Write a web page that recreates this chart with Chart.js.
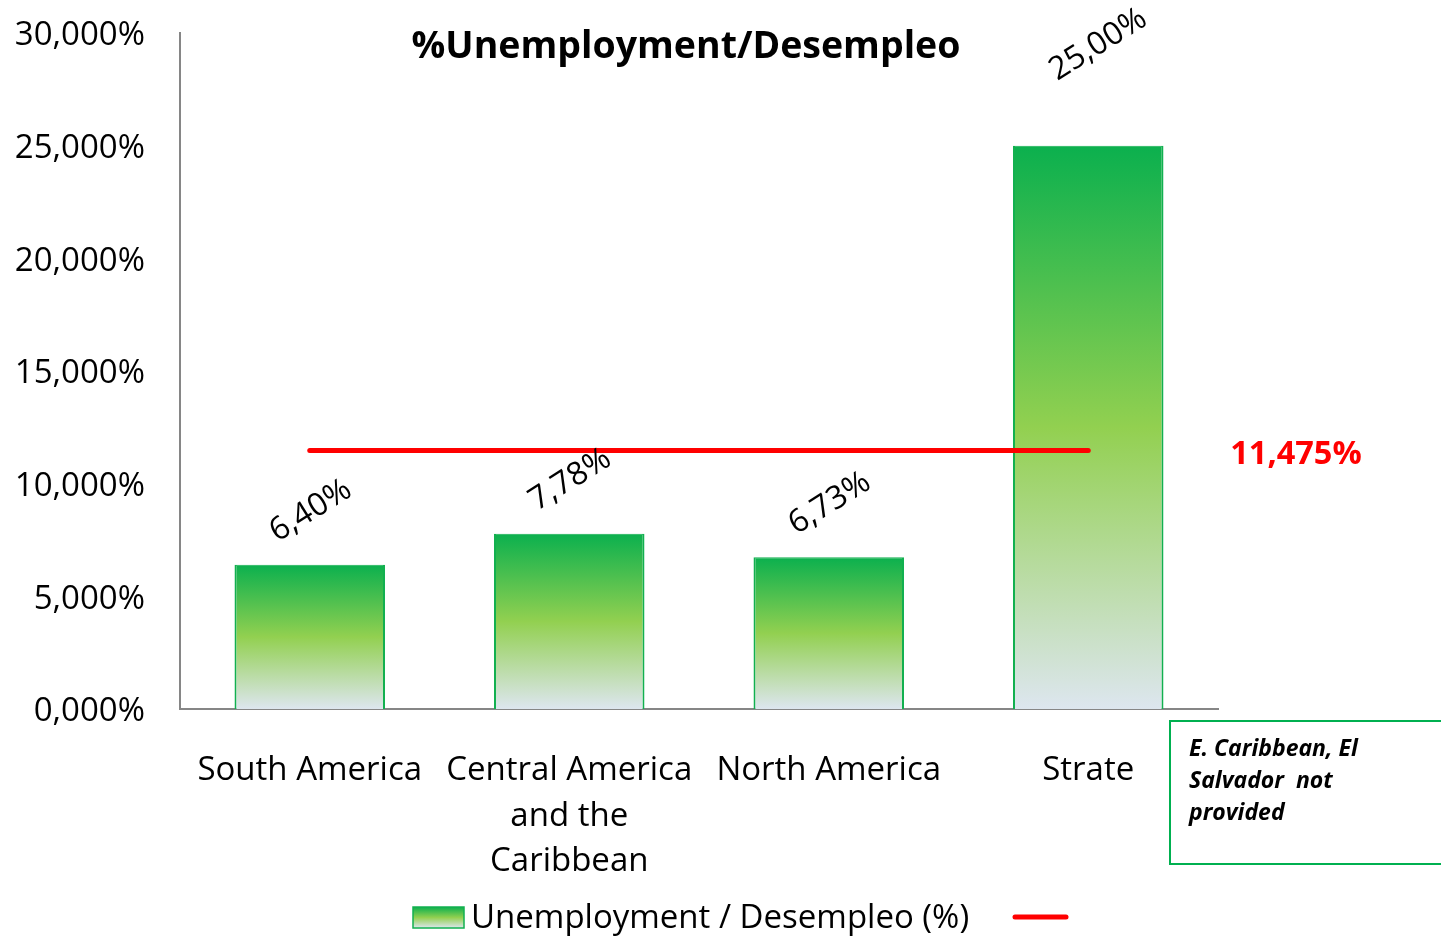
<!DOCTYPE html>
<html>
<head>
<meta charset="utf-8">
<script src="https://cdn.jsdelivr.net/npm/chart.js@4.4.0/dist/chart.umd.min.js"></script>
<style>
    body { margin: 0; background: #fff; }
    #wrap { width: 1441px; height: 936px; }
</style>
</head>
<body>
<div id="wrap"><canvas id="chart" width="1441" height="936"></canvas></div>
<script>
const categories = [
    ["South America"],
    ["Central America", "and the", "Caribbean"],
    ["North America"],
    ["Strate"],
];
const unemployment = [6.40, 7.78, 6.73, 25.00];
const average = [11.475, 11.475, 11.475, 11.475];
const yTicks = [0, 5, 10, 15, 20, 25, 30];
const noteLines = ["E. Caribbean, El", "Salvador  not", "provided"];

const FONT = "'Open Sans', sans-serif";

function pct(v, digits) {
    return v.toFixed(digits).replace(".", ",") + "%";
}

function barGradient(ctx, top, bottom) {
    const g = ctx.createLinearGradient(0, top, 0, bottom);
    g.addColorStop(0, "#0BB04E");
    g.addColorStop(0.5, "#92D050");
    g.addColorStop(1, "#DDE6EF");
    return g;
}

const extrasPlugin = {
    id: "extras",
    afterDraw: (chart) => {
        const ctx = chart.ctx;
        const meta = chart.getDatasetMeta(1);

        ctx.save();

        // title
        ctx.font = "bold 37.5px " + FONT;
        ctx.fillStyle = "#000";
        ctx.textAlign = "center";
        ctx.textBaseline = "middle";
        ctx.fillText("%Unemployment/Desempleo", 686, 47);

        // rotated value labels
        const shift = [[1, -54], [1, -54], [1, -54], [10, -101]];
        ctx.font = "32px " + FONT;
        meta.data.forEach((bar, i) => {
            ctx.save();
            ctx.translate(bar.x + shift[i][0], bar.y + shift[i][1]);
            ctx.rotate(-32 * Math.PI / 180);
            ctx.fillText(pct(unemployment[i], 2), 0, 0);
            ctx.restore();
        });

        // average value
        const yAvg = chart.scales.y.getPixelForValue(average[0]);
        ctx.font = "bold 32.5px " + FONT;
        ctx.fillStyle = "#FF0000";
        ctx.fillText(pct(average[0], 3), 1296, yAvg + 4);

        // note box
        ctx.strokeStyle = "#00B050";
        ctx.lineWidth = 2;
        ctx.strokeRect(1170, 721, 290, 143);
        ctx.fillStyle = "#000";
        ctx.textAlign = "left";
        ctx.font = "italic bold 23px " + FONT;
        noteLines.forEach((t, i) => ctx.fillText(t, 1189, 749 + i * 32));

        // legend
        const lx = 413, ly = 907;
        ctx.fillStyle = barGradient(ctx, ly, ly + 21);
        ctx.fillRect(lx, ly, 51, 21);
        ctx.strokeStyle = "#12B04F";
        ctx.lineWidth = 1.5;
        ctx.strokeRect(lx, ly, 51, 21);
        ctx.fillStyle = "#000";
        ctx.font = "33px " + FONT;
        ctx.fillText(chart.data.datasets[1].label, 471, 919);
        ctx.strokeStyle = "#FF0000";
        ctx.lineWidth = 5;
        ctx.lineCap = "round";
        ctx.beginPath();
        ctx.moveTo(1015, 917);
        ctx.lineTo(1066, 917);
        ctx.stroke();

        ctx.restore();
    },
};

new Chart(document.getElementById("chart").getContext("2d"), {
    type: "bar",
    data: {
        labels: categories,
        datasets: [
            {
                type: "line",
                label: "",
                data: average,
                borderColor: "#FF0000",
                borderWidth: 5,
                borderCapStyle: "round",
                pointRadius: 0,
                order: 0,
            },
            {
                label: "Unemployment / Desempleo (%)",
                data: unemployment,
                backgroundColor: (c) => {
                    const chart = c.chart;
                    if (!chart.chartArea || c.raw === undefined) {
                        return "#92D050";
                    }
                    const y = chart.scales.y;
                    return barGradient(chart.ctx, y.getPixelForValue(c.raw), y.getPixelForValue(0));
                },
                borderColor: "#12B04F",
                borderWidth: { left: 2, right: 2, top: 1, bottom: 0 },
                borderSkipped: false,
                barPercentage: 0.58,
                categoryPercentage: 1,
                order: 1,
            },
        ],
    },
    options: {
        responsive: false,
        animation: false,
        layout: {
            padding: { left: 0, top: 33, right: 223, bottom: 0 },
        },
        plugins: {
            legend: { display: false },
            title: { display: false },
            tooltip: { enabled: false },
        },
        scales: {
            x: {
                grid: { display: false, drawTicks: false },
                border: { display: true, color: "#868686", width: 2 },
                ticks: {
                    color: "#000",
                    padding: 39,
                    maxRotation: 0,
                    autoSkip: false,
                    font: { family: FONT, size: 33, lineHeight: 1.38 },
                },
                afterFit: (scale) => {
                    scale.height = 227;
                    scale.paddingLeft = 0;
                    scale.paddingRight = 0;
                },
            },
            y: {
                min: yTicks[0],
                max: yTicks[yTicks.length - 1],
                afterBuildTicks: (scale) => {
                    scale.ticks = yTicks.map((v) => ({ value: v }));
                },
                grid: { display: false, drawTicks: false },
                border: { display: true, color: "#868686", width: 2 },
                ticks: {
                    color: "#000",
                    padding: 35,
                    labelOffset: 3,
                    font: { family: FONT, size: 33 },
                    callback: (v) => pct(v, 3),
                },
                afterFit: (scale) => {
                    scale.width = 180;
                    scale.paddingTop = 0;
                    scale.paddingBottom = 0;
                },
            },
        },
    },
    plugins: [extrasPlugin],
});
</script>
</body>
</html>
